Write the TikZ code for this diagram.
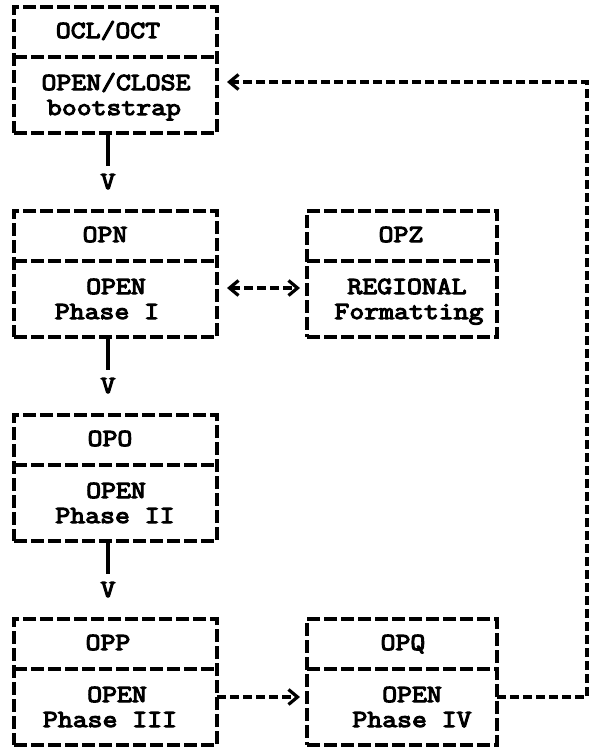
\documentclass[tikz,border=0pt]{standalone}
\usepackage{fontspec}
\newfontfamily\tw{Latin Modern Mono}[FakeStretch=1.18,FakeBold=4.5]
\usetikzlibrary{arrows.meta}
\tikzset{
  box/.style={draw, rectangle, line width=3.2pt, dash pattern=on 13pt off 4pt,
              inner sep=0pt, outer sep=0pt},
  lbox/.style={box, minimum width=203pt, minimum height=126pt},
  rbox/.style={box, minimum width=190pt, minimum height=126pt},
  divline/.style={line width=3.2pt, dash pattern=on 13pt off 4pt},
  txt/.style={anchor=base, inner sep=0pt, font=\fontsize{24.5}{25}\selectfont\tw},
  stemline/.style={line width=3.2pt, shorten >=8pt},
  hconn/.style={line width=3.2pt, dash pattern=on 9pt off 4pt,
                arrows={-Straight Barb[length=9pt,width=15pt]}},
  tipboth/.style={arrows={Straight Barb[length=9pt,width=15pt]-Straight Barb[length=9pt,width=15pt]}}
}
\begin{document}
\begin{tikzpicture}[x=1pt,y=1pt]
\fill[white] (0,0) rectangle (589,-748);
\useasboundingbox (0,0) rectangle (589,-748);

% boxes
\node[lbox] (b1) at (115.5,-70) {};
\node[lbox] (bN) at (115.5,-274) {};
\node[lbox] (bO) at (115.5,-478) {};
\node[lbox] (bP) at (115.5,-682) {};
\node[rbox] (bZ) at (402,-274) {};
\node[rbox] (bQ) at (402,-682) {};

% dividers
\foreach \b in {b1,bN,bO,bP,bZ,bQ}{
  \draw[divline] ([yshift=-50pt]\b.north west) -- ([yshift=-50pt]\b.north east);
}

% texts
\node[txt] (t1a) at (108,-38) {OCL/OCT};
\node[txt] (t1b) at (116,-90) {OPEN/CLOSE};
\node[txt] (t1c) at (114,-115) {bootstrap};

\node[txt] (tNa) at (105,-242) {OPN};
\node[txt] (tNb) at (116,-294) {OPEN};
\node[txt] (tNc) at (107,-319) {Phase I};

\node[txt] (tOa) at (110,-446) {OPO};
\node[txt] (tOb) at (116,-498) {OPEN};
\node[txt] (tOc) at (115,-523) {Phase II};

\node[txt] (tPa) at (108,-650) {OPP};
\node[txt] (tPb) at (117,-702) {OPEN};
\node[txt] (tPc) at (110,-727) {Phase III};

\node[txt] (tZa) at (401,-242) {OPZ};
\node[txt] (tZb) at (407,-294) {REGIONAL};
\node[txt] (tZc) at (409,-319) {Formatting};

\node[txt] (tQa) at (403,-650) {OPQ};
\node[txt] (tQb) at (412,-702) {OPEN};
\node[txt] (tQc) at (412,-727) {Phase IV};

% vertical arrows (stem + V)
\node[txt] (v1) at (108,-189) {V};
\node[txt] (v2) at (108,-393) {V};
\node[txt] (v3) at (108,-597) {V};
\draw[stemline] (b1.south -| v1) -- (v1.north);
\draw[stemline] (bN.south -| v2) -- (v2.north);
\draw[stemline] (bO.south -| v3) -- (v3.north);

% horizontal arrows
\draw[hconn, tipboth] ([shift={(10pt,-14pt)}]bN.east) -- ([shift={(-7pt,-14pt)}]bZ.west);
\draw[hconn] ([yshift=-15pt]bP.east) -- ([shift={(-7pt,-15pt)}]bQ.west);
\draw[hconn] ([yshift=-15pt]bQ.east) -| ([shift={(370pt,-12pt)}]b1.east)
             -- ([shift={(10pt,-12pt)}]b1.east);
\end{tikzpicture}
\end{document}
